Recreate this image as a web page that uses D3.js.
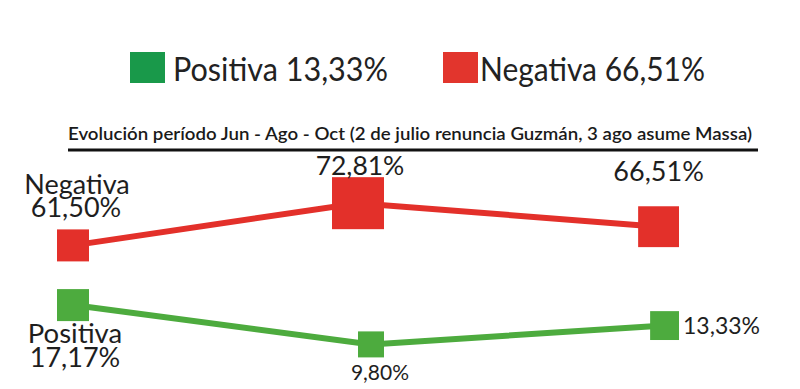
<!DOCTYPE html>
<html><head><meta charset="utf-8">
<script src="https://cdn.jsdelivr.net/npm/d3@7"></script>
<style>body{margin:0;background:#fff}svg{display:block}text{font-family:Lato,"Open Sans",sans-serif}</style>
</head><body>
<svg id="c" width="800" height="389"></svg>
<script>
const categories = ["Jun", "Ago", "Oct"];
const negativa = [61.50, 72.81, 66.51];
const positiva = [17.17, 9.80, 13.33];
const valueLabels = {neg: ["61,50%", "72,81%", "66,51%"], pos: ["17,17%", "9,80%", "13,33%"]};
const legendLabels = ["Positiva 13,33%", "Negativa 66,51%"];
const title = "Evolución período Jun -  Ago - Oct (2 de julio renuncia Guzmán, 3 ago asume Massa)";

const svg = d3.select("#c");
const RED = "#e3302a", GREEN = "#4dab3e";

// legend
const lg = svg.append("g");
[[130, "#19994a", legendLabels[0], 173, 215], [443, "#e2352d", legendLabels[1], 480, 225]].forEach(([x, c, t, tx, w]) => {
  lg.append("rect").attr("x", x).attr("y", 52).attr("width", 35).attr("height", 31).attr("fill", c);
  lg.append("text").attr("x", tx).attr("y", 81).attr("font-size", 32).attr("fill", "#222")
    .attr("textLength", w).attr("lengthAdjust", "spacingAndGlyphs").text(t);
});

// title + underline
svg.append("text").attr("x", 68).attr("y", 140).attr("font-size", 17).attr("font-weight", 600)
  .attr("fill", "#1a1a1a").attr("textLength", 684).attr("lengthAdjust", "spacingAndGlyphs").text(title);
svg.append("line").attr("x1", 68).attr("x2", 758).attr("y1", 150).attr("y2", 150)
  .attr("stroke", "#111").attr("stroke-width", 3);

// scales (broken axis: low band for Positiva, high band for Negativa)
const x = d3.scalePoint().domain(categories).range([89, 679]);
const y = d3.scaleLinear().domain([5, 20, 60, 75]).range([370, 290, 251, 195]);
const sizeNeg = d3.scaleLinear().domain([61.5, 72.81]).range([32, 52]);
const sizePos = d3.scaleLinear().domain([9.8, 17.17]).range([26, 32]);

function series(vals, color, sizeScale) {
  const pts = vals.map((v, i) => {
    const s = sizeScale(v);
    return {cx: x(categories[i]) - s / 2, cy: y(v), s, v};
  });
  svg.append("path").datum(pts)
    .attr("d", d3.line().x(d => d.cx).y(d => d.cy))
    .attr("fill", "none").attr("stroke", color).attr("stroke-width", 6);
  svg.append("g").selectAll("rect").data(pts).join("rect")
    .attr("x", d => d.cx - d.s / 2).attr("y", d => d.cy - d.s / 2)
    .attr("width", d => d.s).attr("height", d => d.s).attr("fill", color);
  return pts;
}
const pn = series(negativa, RED, sizeNeg);
const pp = series(positiva, GREEN, sizePos);

const T = (xx, yy, fs, txt, anchor = "middle") =>
  svg.append("text").attr("x", xx).attr("y", yy).attr("font-size", fs).attr("text-anchor", anchor)
    .attr("fill", "#1e1e1e").text(txt);

// Negativa labels
T(pn[0].cx + 4, pn[0].cy - 51, 27, "Negativa");
T(pn[0].cx + 3, pn[0].cy - 28, 27, valueLabels.neg[0]);
T(pn[1].cx + 2, pn[1].cy - 28, 26.5, valueLabels.neg[1]);
T(pn[2].cx, pn[2].cy - 46, 27, valueLabels.neg[2]);
// Positiva labels
T(pp[0].cx + 2, pp[0].cy + 38, 27.5, "Positiva");
T(pp[0].cx + 2, pp[0].cy + 62, 27, valueLabels.pos[0]);
T(pp[1].cx + 9, pp[1].cy + 36, 21, valueLabels.pos[1]);
T(x(categories[2]) + 4, pp[2].cy + 8, 23, valueLabels.pos[2], "start");
</script>
</body></html>
